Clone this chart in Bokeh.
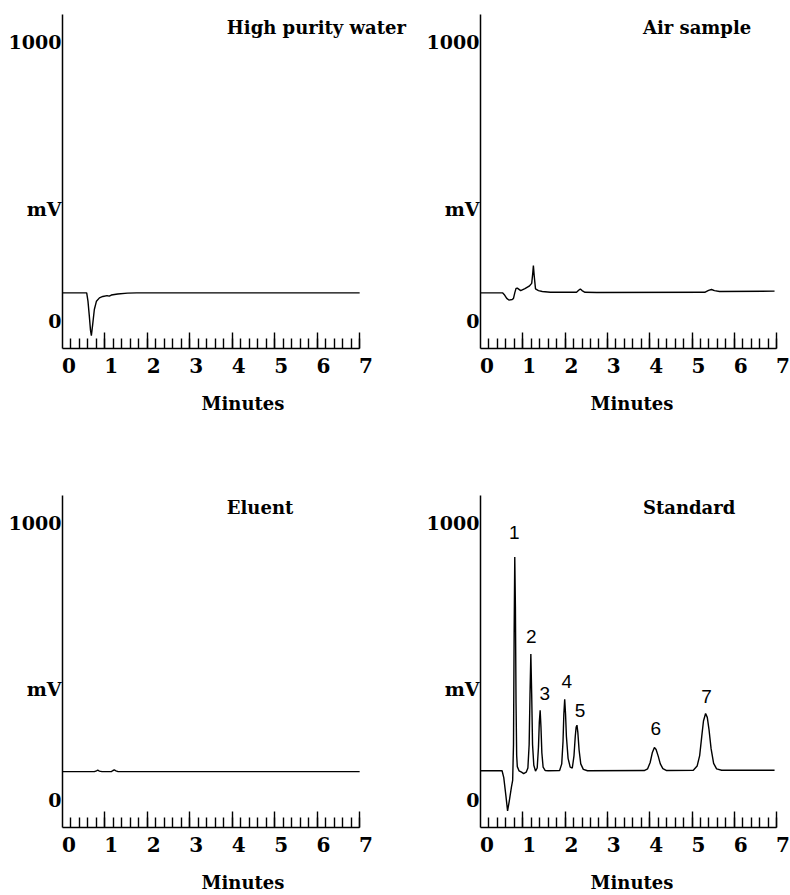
from bokeh.plotting import figure
from bokeh.models import Range1d, LinearAxis, FixedTicker, Label, ColumnDataSource, CustomJSTickFormatter
from bokeh.layouts import column, row
from bokeh.embed import file_html
from bokeh.resources import INLINE
from bokeh.core.properties import value

# ---------------- data (minutes, mV) ----------------
water_t = [-0.14, 0.42, 0.45, 0.48, 0.51, 0.53, 0.56, 0.60, 0.65, 0.72, 0.80, 0.90, 0.95, 1.00, 1.15, 1.38, 1.60, 6.85]
water_v = [100, 100, 70, 20, -35, -54, -15, 40, 70, 82, 87, 90, 88, 92, 96, 99, 100, 100]

air_t = [-0.15, 0.37, 0.42, 0.47, 0.52, 0.60, 0.63, 0.66, 0.69, 0.72, 0.80, 0.90, 1.00, 1.06, 1.085, 1.10, 1.12, 1.15, 1.22, 1.31, 1.50,
         2.12, 2.17, 2.21, 2.25, 2.32, 2.60, 5.15, 5.24, 5.31, 5.38, 5.50, 6.80]
air_v = [100, 100, 92, 80, 74, 76, 80, 100, 116, 117, 108, 115, 124, 134, 170, 198, 160, 114, 108, 105, 102,
         102, 109, 114, 108, 102, 101, 102, 109, 112, 108, 105, 106]

eluent_t = [-0.14, 0.60, 0.65, 0.68, 0.72, 0.78, 1.00, 1.04, 1.07, 1.11, 1.16, 6.85]
eluent_v = [102, 102, 105, 107, 104, 102, 102, 106, 108, 105, 102, 102]

std_t = [-0.15, 0.36, 0.40, 0.45, 0.49, 0.53, 0.58, 0.61, 0.63, 0.645, 0.66, 0.675, 0.69, 0.705, 0.72, 0.76, 0.82, 0.87, 0.93, 0.97,
         1.00, 1.02, 1.04, 1.06, 1.08, 1.11, 1.15, 1.19, 1.22, 1.24, 1.26, 1.28, 1.30, 1.33, 1.38, 1.45,
         1.72, 1.77, 1.80, 1.82, 1.84, 1.86, 1.88, 1.92, 1.97, 2.02, 2.06, 2.09, 2.11, 2.13, 2.15, 2.18, 2.22, 2.28, 2.38,
         3.72, 3.80, 3.86, 3.91, 3.96, 4.00, 4.05, 4.10, 4.16, 4.25,
         4.88, 4.97, 5.03, 5.08, 5.12, 5.17, 5.21, 5.25, 5.30, 5.36, 5.43, 5.55, 6.80]
std_v = [105, 105, 80, 15, -40, -5, 45, 70, 200, 600, 878, 700, 350, 160, 120, 105, 100, 95, 100, 115,
         200, 380, 527, 380, 200, 125, 104, 115, 190, 280, 324, 260, 170, 118, 106, 105,
         106, 130, 210, 310, 363, 310, 230, 150, 118, 115, 160, 230, 262, 270, 245, 180, 130, 110, 105,
         106, 112, 135, 170, 189, 182, 158, 130, 113, 106,
         107, 122, 160, 230, 285, 312, 298, 255, 185, 132, 112, 107, 107]

peak_names = ["1", "2", "3", "4", "5", "6", "7"]
peak_label_t = [0.65, 1.05, 1.37, 1.89, 2.20, 3.99, 5.19]
peak_label_v = [968, 591, 384, 427, 323, 258, 373]

minute_labels = [0, 1, 2, 3, 4, 5, 6, 7]
mv_ticks = [0, 400, 1000]
mv_tick_labels = {0: "0", 400: "mV", 1000: "1000"}

# ---------------- style ----------------
SERIF = "DejaVu Serif"
PX_PER_MIN = 42.45
X_MIN = -0.15
Y_MIN, Y_MAX = -100, 1100
TICK_SHIFT = -0.15
AXIS_END = 6.851
LINE_W = 1.4


def make_panel(title, t, v, title_x, width, height, bl, br, bt, bb):
    frame_w = width - bl - br
    x_max = X_MIN + frame_w / PX_PER_MIN
    p = figure(width=width, height=height, x_range=Range1d(X_MIN, x_max), y_range=Range1d(Y_MIN, Y_MAX),
               x_axis_type=None, output_backend="svg", toolbar_location=None,
               min_border_left=bl, min_border_right=br, min_border_top=bt, min_border_bottom=bb)
    p.outline_line_color = None
    p.grid.visible = False
    p.background_fill_color = "white"
    p.border_fill_color = "white"

    # y axis
    ya = p.yaxis[0]
    ya.ticker = FixedTicker(ticks=mv_ticks, minor_ticks=[])
    ya.major_label_overrides = mv_tick_labels
    ya.major_tick_in = 0
    ya.major_tick_out = 0
    ya.minor_tick_in = 0
    ya.minor_tick_out = 0
    ya.major_label_standoff = 1
    ya.major_label_text_font = SERIF
    ya.major_label_text_font_style = "bold"
    ya.major_label_text_font_size = "19px"
    ya.major_label_text_color = "black"
    ya.axis_line_width = 1.5
    ya.axis_line_color = "black"

    # x axis with tick marks (drawn inward), no labels
    n_major = 7
    major = [TICK_SHIFT + k for k in range(1, n_major + 1)]
    minor = [TICK_SHIFT + 0.2 * k for k in range(1, 5 * n_major + 1)]
    xa = LinearAxis(ticker=FixedTicker(ticks=major, minor_ticks=minor),
                    formatter=CustomJSTickFormatter(code="return ''"),
                    bounds=(X_MIN, AXIS_END),
                    major_tick_in=16, major_tick_out=0, minor_tick_in=10, minor_tick_out=0,
                    major_tick_line_width=1.4, minor_tick_line_width=1.4,
                    major_tick_line_color="black", minor_tick_line_color="black",
                    axis_line_width=1.5, axis_line_color="black",
                    major_label_text_font_size="0px", major_label_standoff=0)
    p.add_layout(xa, "below")

    # x axis carrying the minute labels
    xl = LinearAxis(ticker=FixedTicker(ticks=minute_labels, minor_ticks=[]),
                    axis_line_color=None, major_tick_line_color=None, minor_tick_line_color=None,
                    major_tick_in=0, major_tick_out=0, minor_tick_in=0, minor_tick_out=0,
                    major_label_standoff=9,
                    major_label_text_font=SERIF, major_label_text_font_style="bold",
                    major_label_text_font_size="20px", major_label_text_color="black",
                    axis_label="Minutes", axis_label_standoff=17,
                    axis_label_text_font=SERIF, axis_label_text_font_style="bold",
                    axis_label_text_font_size="18px", axis_label_text_color="black")
    p.add_layout(xl, "below")

    p.line(t, v, line_color="black", line_width=LINE_W)

    p.add_layout(Label(x=title_x, y=1055, text=title, text_font=SERIF, text_font_style="bold",
                       text_font_size="18px", text_color="black",
                       text_align="left", text_baseline="middle"))
    return p


# left panels: frame from x=62; right panels: frame from x=479 (page has no margin)
p1 = make_panel("High purity water", water_t, water_v, 3.72, 423, 430, 62, 0, 14, 82)
p2 = make_panel("Air sample", air_t, air_v, 3.69, 367, 430, 56, 7, 14, 82)
p3 = make_panel("Eluent", eluent_t, eluent_v, 3.72, 423, 465, 62, 0, 65, 65)
p4 = make_panel("Standard", std_t, std_v, 3.69, 367, 465, 56, 7, 65, 65)

src = ColumnDataSource(dict(t=peak_label_t, v=peak_label_v, name=peak_names))
p4.text(x="t", y="v", text="name", source=src, text_font=value("Liberation Sans"),
        text_font_size="19px", text_align="center", text_baseline="middle", text_color="black")

layout = column(row(p1, p2), row(p3, p4))
open("out.html", "w").write(file_html(layout, INLINE))
